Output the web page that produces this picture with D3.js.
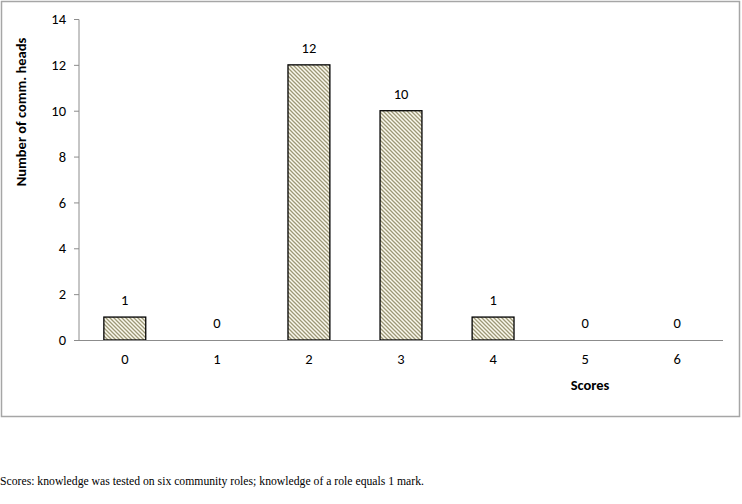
<!DOCTYPE html>
<html>
<head>
<meta charset="utf-8">
<script src="https://cdn.jsdelivr.net/npm/d3@7"></script>
<style>
  body { margin: 0; background: #fff; }
  svg { display: block; }
</style>
</head>
<body>
<svg id="chart" width="742" height="504"></svg>
<script>
const scores = ["0", "1", "2", "3", "4", "5", "6"];
const heads = [1, 0, 12, 10, 1, 0, 0];
const yTicks = [0, 2, 4, 6, 8, 10, 12, 14];
const caption = "Scores: knowledge was tested on six community roles; knowledge of a role equals 1 mark.";

const svg = d3.select("#chart");
const font = "Carlito, Calibri, 'Open Sans', sans-serif";
const fs = 14.5;

// outer frame
svg.append("rect")
  .attr("x", 1.5).attr("y", 1.5)
  .attr("width", 738).attr("height", 415)
  .attr("fill", "#fff")
  .attr("stroke", "#a6a6a6")
  .attr("stroke-width", 1.5);

// hatch pattern for bars
const pat = svg.append("defs").append("pattern")
  .attr("id", "hatch")
  .attr("patternUnits", "userSpaceOnUse")
  .attr("width", 4).attr("height", 4);
pat.append("rect").attr("width", 4).attr("height", 4).attr("fill", "#fbf9ee");
pat.append("path")
  .attr("d", "M-1,-1 L5,5 M-1,3 L1,5 M3,-1 L5,1")
  .attr("stroke", "#9d9877")
  .attr("stroke-width", 1.3);

const x = d3.scaleBand().domain(scores).range([79, 723]).paddingInner(0.545).paddingOuter(0.27);
const y = d3.scaleLinear().domain([0, 14]).range([340, 19]);

// y axis
const yAxis = svg.append("g")
  .attr("transform", "translate(79,0)")
  .call(d3.axisLeft(y).tickValues(yTicks).tickSize(5).tickPadding(8));
yAxis.select(".domain").attr("stroke", "#8c8c8c").attr("d", "M-5,19.5H0V340");
yAxis.selectAll(".tick line").attr("stroke", "#8c8c8c");
yAxis.selectAll("text").attr("font-family", font).attr("font-size", fs).attr("fill", "#000");

// bars
svg.append("g").selectAll("rect")
  .data(heads)
  .join("rect")
  .attr("x", (d, i) => x(scores[i]))
  .attr("y", d => y(d))
  .attr("width", x.bandwidth())
  .attr("height", d => y(0) - y(d))
  .attr("fill", "url(#hatch)")
  .attr("stroke", d => d > 0 ? "#000" : "none")
  .attr("stroke-width", 1.3);

// x axis
const xAxis = svg.append("g")
  .attr("transform", "translate(0,340)")
  .call(d3.axisBottom(x).tickSize(0).tickPadding(14));
xAxis.select(".domain").attr("stroke", "#8c8c8c").attr("d", "M79,0.5H723");
xAxis.selectAll("text").attr("font-family", font).attr("font-size", fs).attr("fill", "#000");

// value labels
svg.append("g").selectAll("text")
  .data(heads)
  .join("text")
  .attr("x", (d, i) => x(scores[i]) + x.bandwidth() / 2)
  .attr("y", d => y(d) - 12)
  .attr("text-anchor", "middle")
  .attr("font-family", font)
  .attr("font-size", fs)
  .text(d => d);

// axis titles
svg.append("text")
  .attr("x", 590).attr("y", 390)
  .attr("text-anchor", "middle")
  .attr("font-family", font)
  .attr("font-size", fs)
  .attr("font-weight", "bold")
  .text("Scores");

svg.append("text")
  .attr("transform", "translate(26,112) rotate(-90)")
  .attr("text-anchor", "middle")
  .attr("font-family", font)
  .attr("font-size", fs)
  .attr("font-weight", "bold")
  .text("Number of comm. heads");

// caption
svg.append("text")
  .attr("x", 0).attr("y", 485)
  .attr("font-family", "'Liberation Serif', 'Times New Roman', serif")
  .attr("font-size", 13)
  .attr("textLength", 424)
  .attr("lengthAdjust", "spacingAndGlyphs")
  .text(caption);
</script>
</body>
</html>
